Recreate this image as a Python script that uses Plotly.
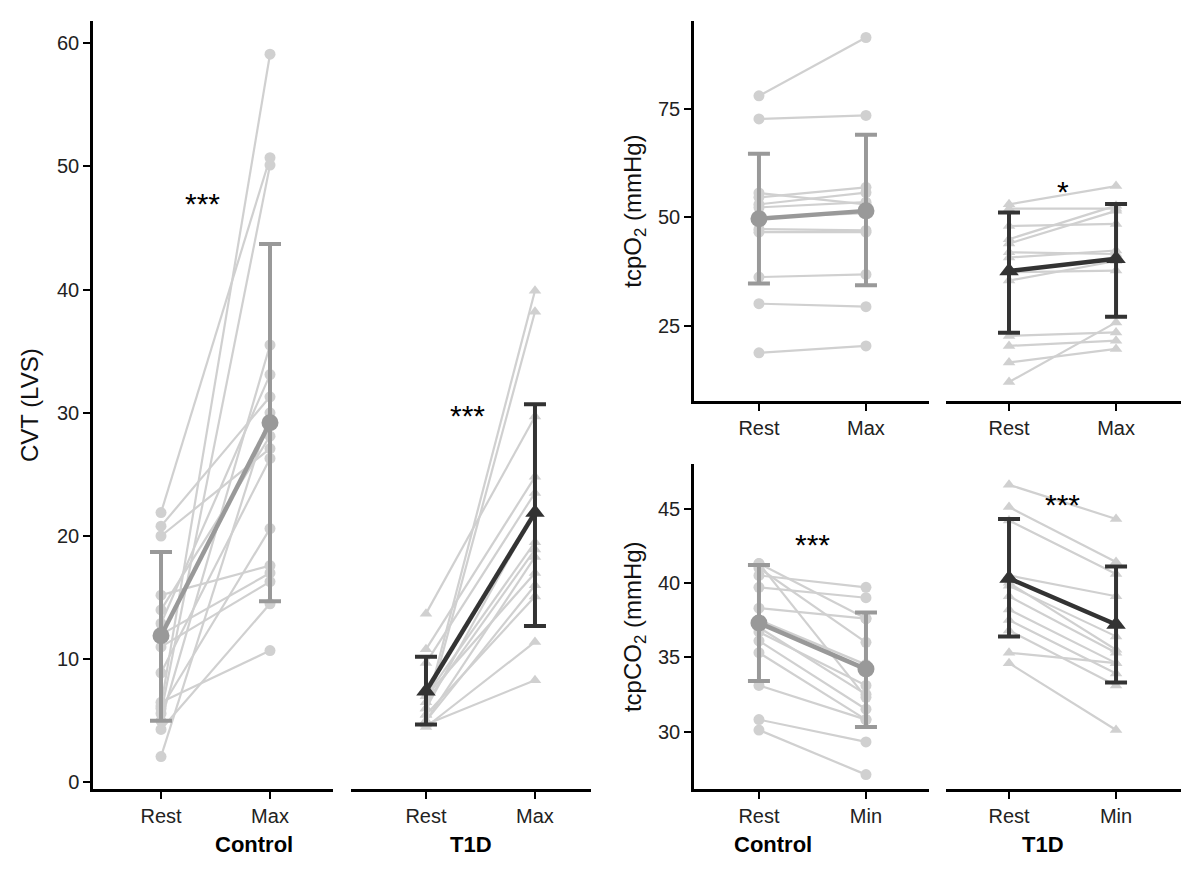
import plotly.graph_objects as go

W, H = 1189, 892
# ---- data ----
cvt_ctrl_rest = [21.9, 20.8, 20.0, 15.2, 14.0, 12.9, 11.0, 8.9, 6.2, 5.6, 5.0, 6.0, 4.3, 2.1, 6.5, 12.0]
cvt_ctrl_max  = [50.7, 31.3, 27.1, 17.6, 28.1, 33.1, 16.3, 26.3, 59.1, 50.1, 35.5, 20.6, 14.5, 30.0, 10.7, 17.0]
cvt_t1d_rest = [13.7, 10.8, 9.7, 6.0, 5.5, 6.5, 5.0, 7.0, 5.5, 4.5, 4.7, 6.0, 7.0, 5.0]
cvt_t1d_max  = [29.7, 24.8, 23.5, 39.9, 38.2, 18.9, 18.3, 17.0, 15.1, 11.4, 8.3, 22.0, 19.5, 16.0]
cvt_ctrl_mean, cvt_ctrl_lo, cvt_ctrl_hi = [11.9, 29.2], [5.0, 14.7], [18.7, 43.7]
cvt_t1d_mean, cvt_t1d_lo, cvt_t1d_hi = [7.4, 21.9], [4.7, 12.7], [10.2, 30.7]

o2_ctrl_rest = [77.9, 72.6, 55.6, 54.6, 53.0, 52.3, 47.3, 46.6, 36.3, 30.2, 18.9, 50.0]
o2_ctrl_max  = [91.3, 73.4, 53.0, 56.9, 55.7, 53.5, 47.0, 46.6, 36.9, 29.5, 20.5, 51.0]
o2_t1d_rest = [53.0, 48.0, 45.0, 42.0, 40.8, 37.4, 35.5, 22.8, 20.5, 16.7, 12.2, 52.0, 44.0]
o2_t1d_max  = [57.2, 48.5, 52.7, 41.6, 42.4, 37.8, 40.0, 23.6, 21.7, 19.8, 25.9, 52.0, 51.5]
o2_ctrl_mean, o2_ctrl_lo, o2_ctrl_hi = [49.7, 51.5], [34.8, 34.4], [64.6, 69.0]
o2_t1d_mean, o2_t1d_lo, o2_t1d_hi = [37.7, 40.5], [23.5, 27.2], [51.1, 53.1]

co2_ctrl_rest = [41.3, 41.3, 40.5, 39.7, 38.3, 36.7, 36.1, 35.3, 33.1, 30.8, 30.1, 37.5, 37.0, 41.0]
co2_ctrl_min  = [37.6, 32.3, 39.7, 39.0, 37.6, 33.1, 31.5, 30.8, 30.8, 29.3, 27.1, 34.5, 32.5, 36.0]
co2_t1d_rest = [46.6, 45.1, 44.2, 40.5, 39.8, 39.1, 38.2, 37.5, 36.8, 35.3, 34.6, 40.0]
co2_t1d_min  = [44.3, 41.4, 40.6, 39.1, 36.4, 35.3, 34.6, 33.9, 33.1, 34.6, 30.1, 35.5]
co2_ctrl_mean, co2_ctrl_lo, co2_ctrl_hi = [37.3, 34.2], [33.4, 30.3], [41.2, 38.0]
co2_t1d_mean, co2_t1d_lo, co2_t1d_hi = [40.3, 37.2], [36.4, 33.3], [44.3, 41.1]

cats_max = ["Rest", "Max"]
cats_min = ["Rest", "Min"]

fig = go.Figure()
FONT = "Liberation Sans, Arial"
LIGHT = "#d0d0d0"

def fx(a, b): return [a / W, b / W]
def fy(top, bot): return [1 - bot / H, 1 - top / H]

panels = [
    (1, (85, 325), (13, 785), [-0.624, 1.578], [-0.57, 61.8], True),
    (2, (343, 583), (13, 785), [-0.688, 1.514], [-0.57, 61.8], False),
    (3, (686, 921), (13, 395), [-0.607, 1.589], [7.8, 95.1], True),
    (4, (938, 1173), (13, 395), [-0.589, 1.607], [7.8, 95.1], False),
    (5, (686, 921), (458, 785), [-0.607, 1.589], [26.1, 48.0], True),
    (6, (938, 1173), (458, 785), [-0.589, 1.607], [26.1, 48.0], False),
]

def add(n, rest, post, mean, lo, hi, ctrl):
    xa = "x" if n == 1 else f"x{n}"
    ya = "y" if n == 1 else f"y{n}"
    sym = "circle" if ctrl else "triangle-up"
    for r, p in zip(rest, post):
        fig.add_trace(go.Scatter(x=[0, 1], y=[r, p], mode="lines+markers", xaxis=xa, yaxis=ya,
                                 line=dict(color=LIGHT, width=2.2), marker=dict(symbol=sym, size=11, color=LIGHT),
                                 showlegend=False, hoverinfo="skip"))
    col = "#999999" if ctrl else "#333333"
    fig.add_trace(go.Scatter(x=[0, 1], y=mean, mode="lines+markers", xaxis=xa, yaxis=ya,
                             line=dict(color=col, width=4.5), marker=dict(symbol=sym, size=17, color=col),
                             error_y=dict(type="data", symmetric=False,
                                          array=[h - m for h, m in zip(hi, mean)],
                                          arrayminus=[m - l for m, l in zip(mean, lo)],
                                          color=col, thickness=4, width=11),
                             showlegend=False))

add(1, cvt_ctrl_rest, cvt_ctrl_max, cvt_ctrl_mean, cvt_ctrl_lo, cvt_ctrl_hi, True)
add(2, cvt_t1d_rest, cvt_t1d_max, cvt_t1d_mean, cvt_t1d_lo, cvt_t1d_hi, False)
add(3, o2_ctrl_rest, o2_ctrl_max, o2_ctrl_mean, o2_ctrl_lo, o2_ctrl_hi, True)
add(4, o2_t1d_rest, o2_t1d_max, o2_t1d_mean, o2_t1d_lo, o2_t1d_hi, False)
add(5, co2_ctrl_rest, co2_ctrl_min, co2_ctrl_mean, co2_ctrl_lo, co2_ctrl_hi, True)
add(6, co2_t1d_rest, co2_t1d_min, co2_t1d_mean, co2_t1d_lo, co2_t1d_hi, False)

tickvals_y = {1: [0, 10, 20, 30, 40, 50, 60], 3: [25, 50, 75], 5: [30, 35, 40, 45]}
for n, xd, yd, xr, yr, showy in panels:
    sx = "" if n == 1 else str(n)
    cats = cats_min if n >= 5 else cats_max
    fig.layout[f"xaxis{sx}"] = dict(domain=fx(*xd), range=xr, anchor=f"y{sx}", showgrid=False, zeroline=False,
                                    showline=True, linecolor="black", linewidth=2.5, ticks="outside", ticklen=7,
                                    tickwidth=2, tickcolor="black", tickvals=[0, 1], ticktext=cats,
                                    tickfont=dict(size=20, color="#222", family=FONT))
    ydict = dict(domain=fy(*yd), range=yr, anchor=f"x{sx}", showgrid=False, zeroline=False)
    if showy:
        ydict.update(showline=True, linecolor="black", linewidth=2.5, ticks="outside", ticklen=7, tickwidth=2,
                     tickcolor="black", tickvals=tickvals_y[n], tickfont=dict(size=20, color="#222", family=FONT))
    else:
        ydict.update(showline=False, showticklabels=False, ticks="")
    fig.layout[f"yaxis{sx}"] = ydict

fig.layout.yaxis.title = dict(text="CVT (LVS)", font=dict(size=24, family=FONT, color="#111"), standoff=12)
fig.layout.yaxis3.title = dict(text="tcpO<sub>2</sub> (mmHg)", font=dict(size=24, family=FONT, color="#111"), standoff=10)
fig.layout.yaxis5.title = dict(text="tcpCO<sub>2</sub> (mmHg)", font=dict(size=24, family=FONT, color="#111"), standoff=10)

anns = []
def star(n, x, y, t):
    sx = "" if n == 1 else str(n)
    anns.append(dict(x=x, y=y, xref=f"x{sx}", yref=f"y{sx}", text=t, showarrow=False,
                     font=dict(size=30, family=FONT, color="black")))
star(1, 0.38, 47.0, "***")
star(2, 0.38, 29.8, "***")
star(4, 0.5, 56.0, "*")
star(5, 0.5, 42.6, "***")
star(6, 0.5, 45.3, "***")
for xc, txt in [(205, "Control"), (463, "T1D"), (806, "Control"), (1058, "T1D")]:
    anns.append(dict(x=xc / W, y=1 - 855 / H, xref="paper", yref="paper", text=f"<b>{txt}</b>",
                     showarrow=False, font=dict(size=22, family=FONT, color="black")))
fig.update_layout(annotations=anns, width=W, height=H, margin=dict(l=0, r=0, t=0, b=0),
                  plot_bgcolor="white", paper_bgcolor="white", showlegend=False)
fig.write_html("out.html")
